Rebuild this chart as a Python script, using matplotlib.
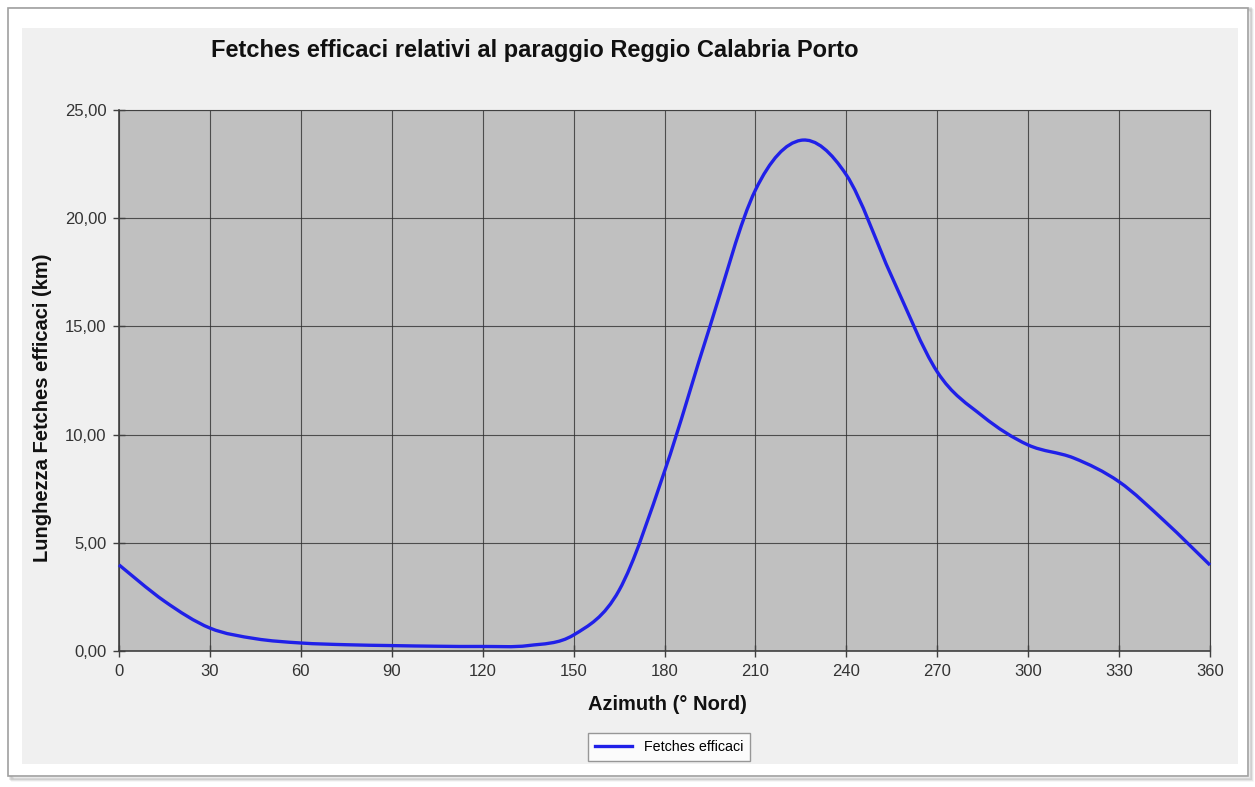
import matplotlib.pyplot as plt
import numpy as np
from matplotlib.path import Path
from matplotlib.patches import PathPatch, Rectangle
from matplotlib.lines import Line2D

# azimuth (deg) and effective fetch (km)
azimuth = [0, 15, 30, 45, 60, 75, 90, 105, 120, 135, 150, 165, 180,
           195, 210, 225, 240, 255, 270, 285, 300, 315, 330, 345, 360]
fetch = [3.98, 2.30, 1.06, 0.57, 0.37, 0.29, 0.25, 0.22, 0.21, 0.25, 0.74, 2.8, 8.3,
         15.0, 21.3, 23.6, 22.0, 17.3, 12.9, 10.85, 9.52, 8.92, 7.82, 6.0, 3.97]

xticks = list(range(0, 361, 30))
yticks = [0, 5, 10, 15, 20, 25]
ytick_labels = ["0,00", "5,00", "10,00", "15,00", "20,00", "25,00"]

title = "Fetches efficaci relativi al paraggio Reggio Calabria Porto"
xlabel = "Azimuth (° Nord)"
ylabel = "Lunghezza Fetches efficaci (km)"
legend_label = "Fetches efficaci"

plt.rcParams['font.family'] = ['Liberation Sans', 'DejaVu Sans']

W, H = 1255, 787
fig = plt.figure(figsize=(W / 100, H / 100), dpi=100)
fig.patch.set_facecolor('white')

def fx(px):
    return px / W

def fy(py):
    return 1 - py / H

# outer frame with a soft shadow
for i, a in enumerate([0.10, 0.07, 0.04]):
    fig.patches.append(Rectangle((fx(10 + i), fy(778 + i)), fx(1240), 770 / H,
                                 transform=fig.transFigure, facecolor='none',
                                 edgecolor=(0, 0, 0, a), lw=2, zorder=-10))
fig.patches.append(Rectangle((fx(8), fy(776)), fx(1240), 768 / H,
                             transform=fig.transFigure, facecolor='white',
                             edgecolor='#a0a0a0', lw=1.2, zorder=-9))
fig.patches.append(Rectangle((fx(22), fy(764)), fx(1216), 736 / H,
                             transform=fig.transFigure, facecolor='#f0f0f0',
                             edgecolor='none', zorder=-8))

# plot area
left, right, top, bottom = 119, 1210, 110, 651
ax = fig.add_axes([fx(left), fy(bottom), fx(right - left), (bottom - top) / H])
ax.set_facecolor('#c0c0c0')
ax.set_xlim(0, 360)
ax.set_ylim(0, 25)
ax.set_xticks(xticks)
ax.set_yticks(yticks)
ax.set_yticklabels(ytick_labels)
ax.tick_params(direction='inout', length=8, width=1, colors='#404040', pad=5,
               labelsize=12, labelcolor='#333333')
ax.grid(True, color='#303030', lw=0.8, alpha=0.8)
ax.set_axisbelow(True)
for s in ['top', 'right']:
    ax.spines[s].set_color('#404040')
    ax.spines[s].set_linewidth(0.8)
for s in ['left', 'bottom']:
    ax.spines[s].set_color('#404040')
    ax.spines[s].set_linewidth(1.2)

# Excel-like smoothed line: cubic Bezier segments through the data points
x = np.array(azimuth, dtype=float)
y = np.array(fetch, dtype=float)
n = len(x)
verts = [(x[0], y[0])]
codes = [Path.MOVETO]
for i in range(n - 1):
    xp, yp = (x[i - 1], y[i - 1]) if i > 0 else (x[i], y[i])
    xn, yn = (x[i + 2], y[i + 2]) if i + 2 < n else (x[i + 1], y[i + 1])
    c1 = (x[i] + (x[i + 1] - xp) / 6, y[i] + (y[i + 1] - yp) / 6)
    c2 = (x[i + 1] - (xn - x[i]) / 6, y[i + 1] - (yn - y[i]) / 6)
    verts += [c1, c2, (x[i + 1], y[i + 1])]
    codes += [Path.CURVE4] * 3
ax.add_patch(PathPatch(Path(verts, codes), facecolor='none',
                       edgecolor='#2020e8', lw=2.4, zorder=3, clip_on=False))

fig.text(fx(535), fy(50), title, ha='center', va='center',
         fontsize=17, fontweight='bold', color='#111111')
fig.text(fx(667), fy(705), xlabel, ha='center', va='center',
         fontsize=14.5, fontweight='bold', color='#111111')
fig.text(fx(43), fy(408), ylabel, ha='center', va='center', rotation=90,
         fontsize=14.5, fontweight='bold', color='#111111')

handle = Line2D([], [], color='#2020e8', lw=2.4)
leg = fig.legend([handle], [legend_label], loc='center',
                 bbox_to_anchor=(fx(669), fy(747)), fontsize=10.3,
                 frameon=True, fancybox=False, edgecolor='#808080',
                 handlelength=2.6, borderpad=0.5)
leg.get_frame().set_linewidth(1)
leg.get_frame().set_facecolor('white')

fig.savefig('out.png', dpi=100, facecolor='white')
